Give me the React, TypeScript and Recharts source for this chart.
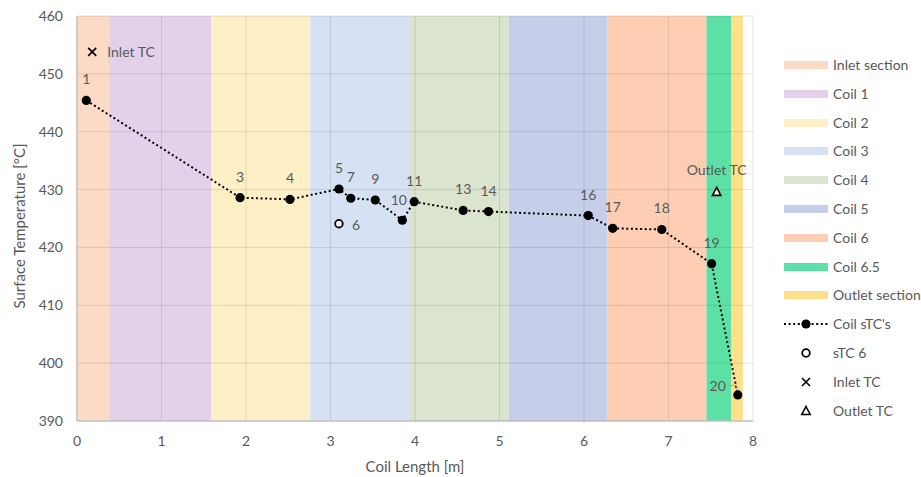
import React from 'react'
import {
  ComposedChart,
  XAxis,
  YAxis,
  ReferenceArea,
  ReferenceLine,
  Line,
  Scatter,
  Legend,
} from 'recharts'

// coil sections (m)
const sectionNames = [
  'Inlet section',
  'Coil 1',
  'Coil 2',
  'Coil 3',
  'Coil 4',
  'Coil 5',
  'Coil 6',
  'Coil 6.5',
  'Outlet section',
]
const sectionStart = [0, 0.38, 1.59, 2.76, 3.93, 5.11, 6.28, 7.45, 7.74]
const sectionEnd = [0.38, 1.59, 2.76, 3.93, 5.11, 6.28, 7.45, 7.74, 7.88]
const sectionColors = [
  '#FBDAC6',
  '#E3D1EC',
  '#FEEFC7',
  '#D6E2F3',
  '#DBE4CF',
  '#C6CFE9',
  '#FDCEB3',
  '#5DE0A6',
  '#FFE08A',
]

// surface thermocouples along the coil
const coilIds = ['1', '3', '4', '5', '7', '9', '10', '11', '13', '14', '16', '17', '18', '19', '20']
const coilLength = [0.11, 1.93, 2.52, 3.1, 3.24, 3.53, 3.85, 3.99, 4.57, 4.87, 6.05, 6.34, 6.92, 7.51, 7.82]
const coilTemp = [445.4, 428.6, 428.3, 430.1, 428.5, 428.2, 424.7, 427.9, 426.4, 426.2, 425.5, 423.3, 423.1, 417.2, 394.5]

const stc6Length = [3.1]
const stc6Temp = [424.1]
const inletTcLength = [0.18]
const inletTcTemp = [453.8]
const outletTcLength = [7.57]
const outletTcTemp = [429.6]

const xTicks = [0, 1, 2, 3, 4, 5, 6, 7, 8]
const yTicks = [390, 400, 410, 420, 430, 440, 450, 460]

const FONT = 'Lato, "Open Sans", sans-serif'
const TXT = '#595959'

const coilData = coilIds.map((id, i) => ({ id, length: coilLength[i], temp: coilTemp[i] }))
const stc6Data = stc6Length.map((l, i) => ({ id: '6', length: l, temp: stc6Temp[i] }))
const inletData = inletTcLength.map((l, i) => ({ id: 'Inlet TC', length: l, temp: inletTcTemp[i] }))
const outletData = outletTcLength.map((l, i) => ({ id: 'Outlet TC', length: l, temp: outletTcTemp[i] }))

const labelStyle = { fontFamily: FONT, fontSize: 14, fill: TXT }

// eslint-disable-next-line @typescript-eslint/no-explicit-any
const CoilDot = (props: any) => {
  const { cx, cy, payload, index } = props
  if (cx == null || cy == null) return <g key={`d-${index}`} />
  const id = payload.id
  let label
  if (id === '20') {
    label = (
      <g>
        <polyline
          points={`${cx - 10},${cy - 9.5} ${cx - 1},${cy - 9.5} ${cx - 1},${cy - 5}`}
          fill="none"
          stroke="#a6a6a6"
          strokeWidth={1}
        />
        <text x={cx - 12} y={cy - 4} textAnchor="end" style={labelStyle}>
          {id}
        </text>
      </g>
    )
  } else if (id === '10') {
    label = (
      <text x={cx - 3.5} y={cy - 15} textAnchor="middle" style={labelStyle}>
        {id}
      </text>
    )
  } else {
    label = (
      <text x={cx} y={cy - 16} textAnchor="middle" style={labelStyle}>
        {id}
      </text>
    )
  }
  return (
    <g key={`d-${index}`}>
      <circle cx={cx} cy={cy} r={4.6} fill="#000" />
      {label}
    </g>
  )
}

// eslint-disable-next-line @typescript-eslint/no-explicit-any
const HollowShape = (props: any) => {
  const { cx, cy, payload } = props
  return (
    <g>
      <circle cx={cx} cy={cy} r={3.8} fill="#fff" stroke="#000" strokeWidth={1.8} />
      <text x={cx + 13} y={cy + 6} style={labelStyle}>
        {payload.id}
      </text>
    </g>
  )
}

// eslint-disable-next-line @typescript-eslint/no-explicit-any
const CrossShape = (props: any) => {
  const { cx, cy, payload } = props
  return (
    <g>
      <path
        d={`M${cx - 4},${cy - 4}L${cx + 4},${cy + 4}M${cx - 4},${cy + 4}L${cx + 4},${cy - 4}`}
        stroke="#000"
        strokeWidth={1.6}
      />
      <text x={cx + 15} y={cy + 5} style={labelStyle}>
        {payload.id}
      </text>
    </g>
  )
}

// eslint-disable-next-line @typescript-eslint/no-explicit-any
const TriangleShape = (props: any) => {
  const { cx, cy, payload } = props
  return (
    <g>
      <path
        d={`M${cx},${cy - 4.5}L${cx + 4.2},${cy + 3.5}L${cx - 4.2},${cy + 3.5}Z`}
        fill="#fff"
        stroke="#000"
        strokeWidth={1.6}
      />
      <text x={cx} y={cy - 17} textAnchor="middle" style={labelStyle}>
        {payload.id}
      </text>
    </g>
  )
}

const LegendRow = ({ children, label }: { children: React.ReactNode; label: string }) => (
  <div style={{ display: 'flex', alignItems: 'center', height: 28.8 }}>
    <svg width={44} height={14} style={{ marginRight: 5, flex: 'none' }}>
      {children}
    </svg>
    <span style={{ whiteSpace: 'nowrap' }}>{label}</span>
  </div>
)

const LegendContent = () => (
  <div style={{ fontFamily: FONT, fontSize: 14, color: TXT, lineHeight: '16px' }}>
    {sectionNames.map((name, i) => (
      <LegendRow key={name} label={name}>
        <rect x={0} y={3} width={44} height={8} fill={sectionColors[i]} />
      </LegendRow>
    ))}
    <LegendRow label="Coil sTC's">
      <line x1={0} y1={7} x2={44} y2={7} stroke="#000" strokeWidth={2} strokeDasharray="2 2.6" />
      <circle cx={22} cy={7} r={4.6} fill="#000" />
    </LegendRow>
    <LegendRow label="sTC 6">
      <circle cx={22} cy={7} r={3.8} fill="#fff" stroke="#000" strokeWidth={1.8} />
    </LegendRow>
    <LegendRow label="Inlet TC">
      <path d="M18,3L26,11M18,11L26,3" stroke="#000" strokeWidth={1.6} />
    </LegendRow>
    <LegendRow label="Outlet TC">
      <path d="M22,2.5L26.2,10.5L17.8,10.5Z" fill="#fff" stroke="#000" strokeWidth={1.6} />
    </LegendRow>
  </div>
)

// eslint-disable-next-line @typescript-eslint/no-explicit-any
const XLabel = (props: any) => {
  const { viewBox } = props
  return (
    <text
      x={viewBox.x + viewBox.width / 2}
      y={472}
      textAnchor="middle"
      style={{ fontFamily: FONT, fontSize: 15, fill: TXT }}
    >
      Coil Length [m]
    </text>
  )
}

const YLabel = () => (
  <text
    x={0}
    y={0}
    transform="translate(25, 226) rotate(-90)"
    textAnchor="middle"
    style={{ fontFamily: FONT, fontSize: 15, fill: TXT }}
  >
    Surface Temperature [°C]
  </text>
)

export default function App() {
  return (
    <div style={{ position: 'absolute', left: 0, top: 0, width: 921, height: 477, background: '#fff' }}>
      <ComposedChart
        width={921}
        height={477}
        margin={{ top: 16, right: 168, bottom: 0, left: 0 }}
      >
        {sectionNames.map((name, i) => (
          <ReferenceArea
            key={name}
            x1={sectionStart[i]}
            x2={sectionEnd[i]}
            y1={390}
            y2={460}
            fill={sectionColors[i]}
            fillOpacity={1}
            stroke="none"
          />
        ))}
        {/* grid on top of the section bands */}
        {xTicks.slice(1).map((t) => (
          <ReferenceLine key={`gx-${t}`} x={t} stroke="#000" strokeOpacity={0.1} />
        ))}
        {yTicks.slice(1).map((t) => (
          <ReferenceLine key={`gy-${t}`} y={t} stroke="#000" strokeOpacity={0.1} />
        ))}
        <XAxis
          dataKey="length"
          type="number"
          domain={[0, 8]}
          ticks={xTicks}
          height={56}
          tickLine={false}
          axisLine={{ stroke: '#bfbfbf', strokeWidth: 1.5 }}
          tick={{ fontFamily: FONT, fontSize: 14, fill: TXT }}
          tickMargin={9}
          label={<XLabel />}
        />
        <YAxis
          type="number"
          domain={[390, 460]}
          ticks={yTicks}
          width={77}
          tickLine={false}
          axisLine={{ stroke: '#bfbfbf', strokeWidth: 1.5 }}
          tick={{ fontFamily: FONT, fontSize: 14, fill: TXT }}
          tickMargin={8}
          label={<YLabel />}
        />
        <Line
          data={coilData}
          dataKey="temp"
          stroke="#000"
          strokeWidth={2}
          strokeDasharray="2 2.6"
          dot={CoilDot}
          activeDot={false}
          isAnimationActive={false}
        />
        <Scatter data={stc6Data} dataKey="temp" shape={HollowShape} isAnimationActive={false} />
        <Scatter data={inletData} dataKey="temp" shape={CrossShape} isAnimationActive={false} />
        <Scatter data={outletData} dataKey="temp" shape={TriangleShape} isAnimationActive={false} />
        <Legend
          layout="vertical"
          align="center"
          verticalAlign="middle"
          content={<LegendContent />}
          wrapperStyle={{ left: 784, top: 50.6, width: 137, right: 'auto', bottom: 'auto' }}
        />
      </ComposedChart>
    </div>
  )
}
